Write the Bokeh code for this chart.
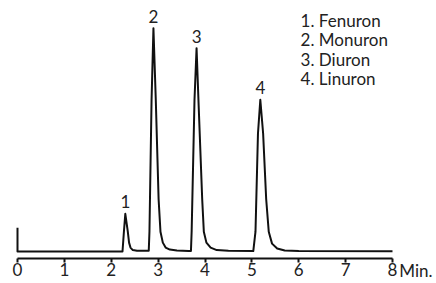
from bokeh.plotting import figure
from bokeh.models import Range1d, FixedTicker, LinearAxis
from bokeh.core.properties import value
from bokeh.embed import file_html
from bokeh.resources import INLINE

# Chromatogram trace (time in min, signal in arbitrary units)
times = [0.0, 0.0, 2.24, 2.27, 2.30, 2.353, 2.38, 2.41, 2.46, 2.55,
         2.80, 2.815, 2.86, 2.90, 2.95, 3.01, 3.05, 3.10, 3.16, 3.25, 3.40, 3.65,
         3.70, 3.715, 3.776, 3.82, 3.86, 3.94, 3.975, 4.03, 4.12, 4.25, 4.50,
         5.03, 5.077, 5.13, 5.18, 5.24, 5.305, 5.36, 5.43, 5.54, 5.70, 6.00, 8.00]
signal = [24, 0, 0, 20, 38, 20, 9, 4, 1.5, 0.8,
          0.8, 20, 153, 225, 153, 53, 20, 9, 4, 2, 1, 0.5,
          0.5, 20, 153, 205, 153, 53, 20, 9, 4, 1.5, 0.8,
          0.5, 20, 119, 153, 119, 53, 20, 8, 3, 1, 0.5, 0.3]

peak_labels = ["1", "2", "3", "4"]
peak_times = [2.30, 2.90, 3.82, 5.18]
peak_heights = [38, 225, 205, 153]

compounds = ["Fenuron", "Monuron", "Diuron", "Linuron"]

tick_values = [0, 1, 2, 3, 4, 5, 6, 7, 8]
tick_labels = ["0", "1", "2", "3", "4", "5", "6", "7", "8"]
unit_label = "Min."
unit_pos = 8.50

FONT = "Lato"
INK = "#111111"
TXT = "#222222"
LABEL_H = 19  # approx. height of a 17px label line

p = figure(width=436, height=283, output_backend="svg", toolbar_location=None,
           x_range=Range1d(-0.3627, 8.9387), y_range=Range1d(-7, 253),
           y_axis_location=None, min_border_left=0, min_border_right=0,
           min_border_top=0, min_border_bottom=0)
p.background_fill_color = "white"
p.border_fill_color = "white"
p.outline_line_color = None
p.xgrid.visible = False
p.ygrid.visible = False

ax = p.xaxis[0]
ax.bounds = (0, 8)
ax.ticker = FixedTicker(ticks=tick_values, minor_ticks=[])
ax.major_label_overrides = {v: s for v, s in zip(tick_values, tick_labels)}
ax.axis_line_width = 2
ax.axis_line_color = INK
ax.major_tick_line_width = 2
ax.major_tick_line_color = INK
ax.major_tick_out = 4
ax.major_tick_in = 0
ax.minor_tick_line_color = None
ax.major_label_standoff = 0
ax.major_label_text_font = FONT
ax.major_label_text_font_size = "17px"
ax.major_label_text_color = TXT

# unit label "Min." on a line-less axis pulled up onto the tick-label row
ax2 = LinearAxis(ticker=FixedTicker(ticks=[unit_pos], minor_ticks=[]),
                 major_label_overrides={unit_pos: unit_label},
                 axis_line_color=None, major_tick_line_color=None,
                 minor_tick_line_color=None, major_tick_out=0, major_tick_in=0,
                 major_label_standoff=-LABEL_H, major_label_text_font=FONT,
                 major_label_text_font_size="17px",
                 major_label_text_color=TXT)
p.add_layout(ax2, "below")

p.line(times, signal, line_width=2, line_color=INK, line_join="round")

label_y = [h + 12 for h in peak_heights]
p.text(x=peak_times, y=label_y, text=peak_labels, text_align="center",
       text_baseline="alphabetic", text_font=value(FONT),
       text_font_size="17px", text_color=TXT)

legend_text = [f"{n}. {c}" for n, c in zip(peak_labels, compounds)]
legend_x = [6.04] * 4
legend_y = [233, 214, 194, 174]
p.text(x=legend_x, y=legend_y, text=legend_text, text_align="left",
       text_baseline="alphabetic", text_font=value(FONT), text_font_size="17px",
       text_color=TXT)

open("out.html", "w").write(file_html(p, INLINE))
